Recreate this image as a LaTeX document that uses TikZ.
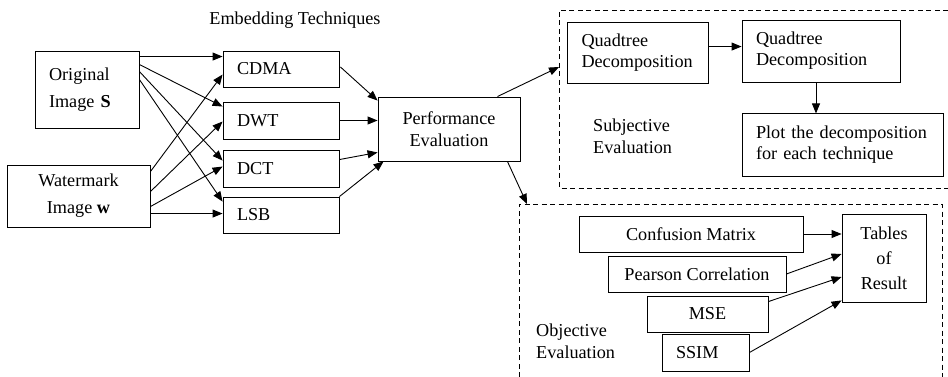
\documentclass[tikz,border=0pt]{standalone}
\usepackage{fontspec}
\setmainfont{Liberation Serif}
\usetikzlibrary{arrows.meta,
  calc,
  positioning
}
\tikzstyle{box} = [draw, line width=0.9pt, inner sep=0pt,
  font=\fontsize{18.2}{21}\selectfont]
\tikzstyle{lbox} = [box, align=left, inner xsep=14pt]
\tikzstyle{cbox} = [box, align=center]
\tikzstyle{lbl} = [inner sep=0pt, align=left, font=\fontsize{18.2}{22}\selectfont]
\tikzstyle{arr} = [-{Triangle[length=10pt,width=8pt]}, line width=0.9pt]
\tikzstyle{dbox} = [line width=0.9pt, dash pattern=on 5pt off 3.5pt]

\begin{document}
\begin{tikzpicture}[x=1pt, y=-1pt]
  \useasboundingbox (0,0) rectangle (948,377);
  \clip (0,0) rectangle (948,377);

  % inputs
  \node[lbox, text width=76pt, minimum height=77pt,
    font=\fontsize{18.2}{27}\selectfont] (orig) at (87,89.5) {Original\\Image \textbf{S}};
  \node[cbox, minimum width=143pt, minimum height=62pt,
    font=\fontsize{18.2}{27}\selectfont] (wm) at (78.5,196) {Watermark\\Image \textbf{w}};

  % embedding techniques
  \node[lbl] (emb) at (295,20) {Embedding Techniques};
  \node[lbox, text width=88pt, minimum height=36pt] (cdma) at (281,69) {CDMA};
  \node[lbox, text width=88pt, minimum height=37pt] (dwt) at (281,120.5) {DWT};
  \node[lbox, text width=88pt, minimum height=37pt] (dct) at (281,168.5) {DCT};
  \node[lbox, text width=88pt, minimum height=36pt] (lsb) at (281,215) {LSB};

  \draw[arr] ($(orig.north east)+(0,6)$) -- ($(cdma.north west)+(0,6)$);
  \draw[arr] ($(orig.north east)+(0,14)$) -- ($(dwt.north west)+(0,5)$);
  \draw[arr] ($(orig.north east)+(0,21)$) -- ($(dct.north west)+(0,11)$);
  \draw[arr] ($(orig.north east)+(0,29)$) -- ($(lsb.north west)+(0,5)$);
  \draw[arr] ($(wm.north east)+(0,7)$) -- ($(cdma.north west)+(0,24)$);
  \draw[arr] ($(wm.north east)+(0,27)$) -- ($(dwt.north west)+(0,20)$);
  \draw[arr] ($(wm.north east)+(0,42)$) -- ($(dct.north west)+(0,17)$);
  \draw[arr] ($(wm.north east)+(0,49)$) -- ($(lsb.north west)+(0,17)$);

  % performance evaluation
  \node[cbox, minimum width=142pt, minimum height=64pt,
    font=\fontsize{18.2}{22}\selectfont] (perf) at (449,129) {Performance\\Evaluation};
  \draw[arr] ($(cdma.east)+(1,-2)$) -- ($(perf.north west)+(0,4)$);
  \draw[arr] (dwt.east) -- (perf.west |- dwt.east);
  \draw[arr] ($(dct.north east)+(0,10)$) -- ($(perf.south west)+(0,-9)$);
  \draw[arr] (lsb.north east) -- ($(perf.south west)+(6,0)$);

  % subjective evaluation
  \draw[dbox] (948,10) -- (559,10) -- (559,188) -- (948,188);
  \coordinate (subjin) at (559,67);
  \node[lbox, text width=113pt, minimum height=61pt] (quad1) at (638,52.5) {Quadtree\\Decomposition};
  \node[lbox, text width=130pt, minimum height=62pt] (quad2) at (821,51) {Quadtree\\Decomposition};
  \node[lbox, text width=173pt, minimum height=63pt] (plot) at (842.5,144.5) {Plot the decomposition\\for each technique};
  \node[lbl, anchor=west] (subj) at (593,136) {Subjective\\Evaluation};
  \draw[arr] ($(perf.north east)+(-23,0)$) -- (subjin);
  \draw[arr] ($(quad1.north east)+(0,25)$) -- ($(quad2.north west)+(0,27)$);
  \draw[arr] ($(quad2.south)+(-5,0)$) -- ($(quad2.south)+(-5,31)$);

  % objective evaluation
  \draw[dbox] (519,377) -- (519,204) -- (942,204) -- (942,377);
  \coordinate (objin) at (527,204);
  \node[cbox, minimum width=224pt, minimum height=36pt] (cm) at (691,234) {Confusion Matrix};
  \node[cbox, minimum width=178pt, minimum height=36pt] (pc) at (697,274) {Pearson Correlation};
  \node[cbox, minimum width=121pt, minimum height=36pt] (mse) at (707.5,314) {MSE};
  \node[lbox, text width=59pt, minimum height=37pt] (ssim) at (705.5,352.5) {SSIM};
  \node[cbox, minimum width=84pt, minimum height=88pt,
    font=\fontsize{18.2}{25}\selectfont] (tables) at (884,258) {Tables\\of\\Result};
  \node[lbl, anchor=west] (obj) at (536,341) {Objective\\Evaluation};
  \draw[arr] ($(perf.south east)+(-13,0)$) -- (objin);
  \draw[arr] (cm.east) -- (tables.west |- cm.east);
  \draw[arr] (pc.east) -- ($(tables.west)+(0,-4)$);
  \draw[arr] ($(mse.north east)+(0,6)$) -- ($(tables.west)+(0,19)$);
  \draw[arr] (ssim.east) -- ($(tables.south west)+(0,-2)$);
\end{tikzpicture}
\end{document}
